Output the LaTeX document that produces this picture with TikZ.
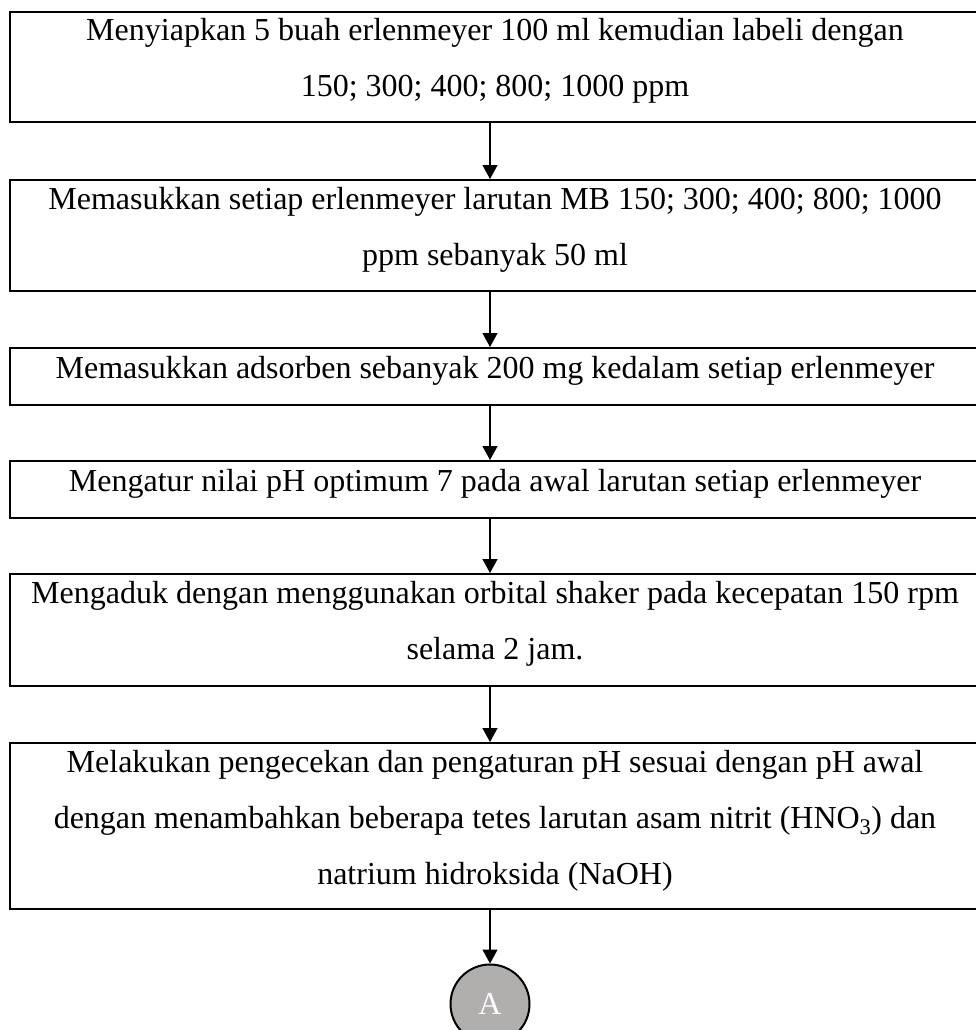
\documentclass[tikz,border=0pt]{standalone}
\usepackage{fontspec}
\setmainfont{Liberation Serif}
\usetikzlibrary{arrows.meta}
\begin{document}
\begin{tikzpicture}[x=1pt,y=-1pt,
  stepbox/.style={draw=black,line width=2.3pt,minimum width=970pt,inner sep=0pt,anchor=north},
  txt/.style={anchor=base,inner sep=0pt,font=\fontsize{32}{56}\selectfont},
  flow/.style={line width=1.3pt,-{Triangle[width=15pt,length=14pt]}},
  conn/.style={circle,draw=black,line width=2pt,fill=circfill,minimum size=79pt,inner sep=0pt,text=white,font=\fontsize{32}{40}\selectfont}
]
\definecolor{circfill}{RGB}{177,174,174}
\useasboundingbox (0,0) rectangle (976,1030);
\clip (0,0) rectangle (976,1030);
% boxes
\node[stepbox,minimum height=110pt] (b1) at (495,11) {};
\node[stepbox,minimum height=111pt] (b2) at (495,179) {};
\node[stepbox,minimum height=57pt] (b3) at (495,347) {};
\node[stepbox,minimum height=57pt] (b4) at (495,460) {};
\node[stepbox,minimum height=112pt] (b5) at (495,573) {};
\node[stepbox,minimum height=166pt] (b6) at (495,742) {};
% texts
\node[txt] (t1a) at (495,41) {Menyiapkan 5 buah erlenmeyer 100 ml kemudian labeli dengan};
\node[txt] (t1b) at (495,97) {150; 300; 400; 800; 1000 ppm};
\node[txt] (t2a) at (495,209) {Memasukkan setiap erlenmeyer larutan MB 150; 300; 400; 800; 1000};
\node[txt] (t2b) at (495,265) {ppm sebanyak 50 ml};
\node[txt] (t3) at (495,378) {Memasukkan adsorben sebanyak 200 mg kedalam setiap erlenmeyer};
\node[txt] (t4) at (495,491) {Mengatur nilai pH optimum 7 pada awal larutan setiap erlenmeyer};
\node[txt] (t5a) at (495,603) {Mengaduk dengan menggunakan orbital shaker pada kecepatan 150 rpm};
\node[txt] (t5b) at (495,659) {selama 2 jam.};
\node[txt] (t6a) at (495,772) {Melakukan pengecekan dan pengaturan pH sesuai dengan pH awal};
\node[txt] (t6b) at (495,828) {dengan menambahkan beberapa tetes larutan asam nitrit (HNO\textsubscript{3}) dan};
\node[txt] (t6c) at (495,884) {natrium hidroksida (NaOH)};
% connector circle
\node[conn] (A) at (490,1004) {A};
% arrows
\draw[flow] (b1.south -| A.north) -- (b2.north -| A.north);
\draw[flow] (b2.south -| A.north) -- (b3.north -| A.north);
\draw[flow] (b3.south -| A.north) -- (b4.north -| A.north);
\draw[flow] (b4.south -| A.north) -- (b5.north -| A.north);
\draw[flow] (b5.south -| A.north) -- (b6.north -| A.north);
\draw[flow] (b6.south -| A.north) -- (A.north);
\end{tikzpicture}
\end{document}
